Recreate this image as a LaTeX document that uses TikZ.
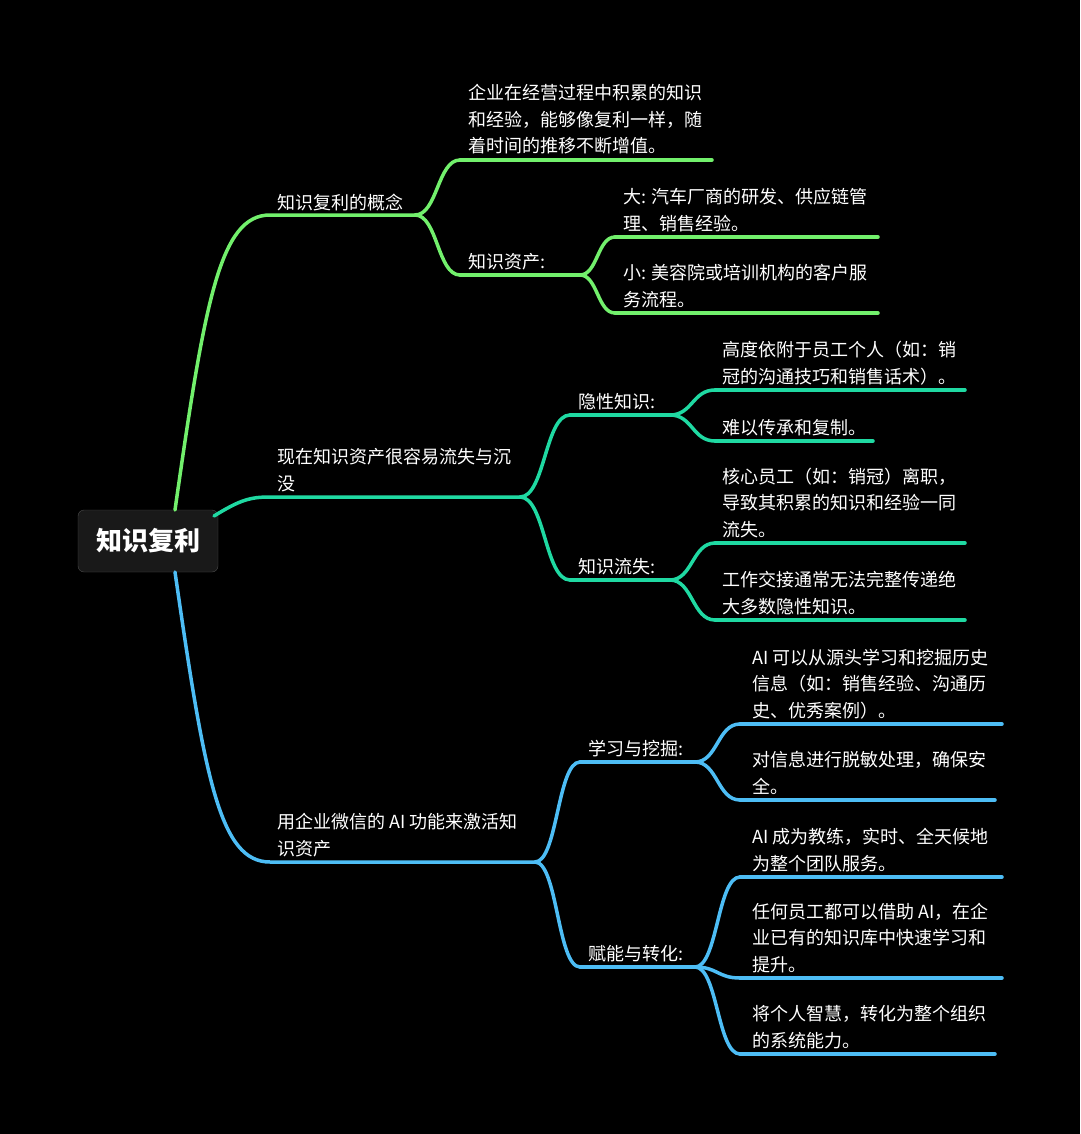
\documentclass[tikz,border=0pt]{standalone}
\usepackage{fontspec}
\setmainfont{Noto Sans CJK SC}
\usetikzlibrary{calc}
\definecolor{cgreen}{HTML}{72F06C}
\definecolor{cteal}{HTML}{1FD9A2}
\definecolor{cblue}{HTML}{4DBDF5}
\tikzset{
  txt/.style={anchor=base west, inner sep=0pt, text=white, font=\fontsize{18}{26.5}\selectfont, align=left},
  branch/.style={line width=3.5pt, line cap=round},
}
\newcommand{\scurve}[3]{\coordinate (mid) at ($(#2)!0.5!(#3)$);
  \draw[branch,#1] (#2) .. controls (mid |- #2) and (mid |- #3) .. (#3);}
\begin{document}
\begin{tikzpicture}[x=1pt,y=-1pt]
\fill[black] (0,0) rectangle (1080,1134);
\useasboundingbox (0,0) rectangle (1080,1134);

% Root
\node[draw=black!70!white, fill=black!90!white, rounded corners=6pt, minimum width=140pt, minimum height=62pt,
  text=white, font=\fontsize{26}{30}\selectfont\bfseries] (root) at (148,541) {知识复利};

% Green branch
\coordinate (g0) at (270,215); \coordinate (g1) at (415,215);
\coordinate (ga0) at (460,160); \coordinate (ga1) at (712,160);
\coordinate (gb0) at (460,275); \coordinate (gb1) at (580,275);
\coordinate (gc0) at (615,237); \coordinate (gc1) at (878,237);
\coordinate (gd0) at (615,313); \coordinate (gd1) at (878,313);
\draw[branch,cgreen] (175,510) .. controls (205,300) and (220,215) .. (g0) -- (g1);
\scurve{cgreen}{g1}{ga0} \draw[branch,cgreen] (ga0) -- (ga1);
\scurve{cgreen}{g1}{gb0} \draw[branch,cgreen] (gb0) -- (gb1);
\scurve{cgreen}{gb1}{gc0} \draw[branch,cgreen] (gc0) -- (gc1);
\scurve{cgreen}{gb1}{gd0} \draw[branch,cgreen] (gd0) -- (gd1);
\node[txt] (gt) at (277,209) {知识复利的概念};
\node[txt] (gat) at (468,153) {企业在经营过程中积累的知识\\和经验，能够像复利一样，随\\着时间的推移不断增值。};
\node[txt] (gbt) at (468,268) {知识资产:};
\node[txt] (gct) at (623,230) {大: 汽车厂商的研发、供应链管\\理、销售经验。};
\node[txt] (gdt) at (623,306) {小: 美容院或培训机构的客户服\\务流程。};

% Teal branch
\coordinate (t0) at (270,497); \coordinate (t1) at (520,497);
\coordinate (ta0) at (570,415); \coordinate (ta1) at (670,415);
\coordinate (tb0) at (570,580); \coordinate (tb1) at (670,580);
\coordinate (tc0) at (715,390); \coordinate (tc1) at (965,390);
\coordinate (td0) at (715,441); \coordinate (td1) at (873,441);
\coordinate (te0) at (715,543); \coordinate (te1) at (965,543);
\coordinate (tf0) at (715,620); \coordinate (tf1) at (965,620);
\draw[branch,cteal] (214,516) .. controls (240,500) and (250,497) .. (t0) -- (t1);
\scurve{cteal}{t1}{ta0} \draw[branch,cteal] (ta0) -- (ta1);
\scurve{cteal}{t1}{tb0} \draw[branch,cteal] (tb0) -- (tb1);
\scurve{cteal}{ta1}{tc0} \draw[branch,cteal] (tc0) -- (tc1);
\scurve{cteal}{ta1}{td0} \draw[branch,cteal] (td0) -- (td1);
\scurve{cteal}{tb1}{te0} \draw[branch,cteal] (te0) -- (te1);
\scurve{cteal}{tb1}{tf0} \draw[branch,cteal] (tf0) -- (tf1);
\node[txt] (tt) at (277,490) {现在知识资产很容易流失与沉\\没};
\node[txt] (tat) at (578,408) {隐性知识:};
\node[txt] (tbt) at (578,573) {知识流失:};
\node[txt] (tct) at (722,383) {高度依附于员工个人（如：销\\冠的沟通技巧和销售话术）。};
\node[txt] (tdt) at (722,434) {难以传承和复制。};
\node[txt] (tet) at (722,536) {核心员工（如：销冠）离职，\\导致其积累的知识和经验一同\\流失。};
\node[txt] (tft) at (722,613) {工作交接通常无法完整传递绝\\大多数隐性知识。};

% Blue branch
\coordinate (b0) at (270,862); \coordinate (b1) at (535,862);
\coordinate (ba0) at (580,762); \coordinate (ba1) at (695,762);
\coordinate (bb0) at (580,967); \coordinate (bb1) at (695,967);
\coordinate (bc0) at (740,724); \coordinate (bc1) at (1002,724);
\coordinate (bd0) at (740,800); \coordinate (bd1) at (995,800);
\coordinate (be0) at (740,877); \coordinate (be1) at (1002,877);
\coordinate (bf0) at (740,978); \coordinate (bf1) at (1002,978);
\coordinate (bg0) at (740,1054); \coordinate (bg1) at (995,1054);
\draw[branch,cblue] (175,572) .. controls (205,780) and (220,862) .. (b0) -- (b1);
\scurve{cblue}{b1}{ba0} \draw[branch,cblue] (ba0) -- (ba1);
\scurve{cblue}{b1}{bb0} \draw[branch,cblue] (bb0) -- (bb1);
\scurve{cblue}{ba1}{bc0} \draw[branch,cblue] (bc0) -- (bc1);
\scurve{cblue}{ba1}{bd0} \draw[branch,cblue] (bd0) -- (bd1);
\scurve{cblue}{bb1}{be0} \draw[branch,cblue] (be0) -- (be1);
\scurve{cblue}{bb1}{bf0} \draw[branch,cblue] (bf0) -- (bf1);
\scurve{cblue}{bb1}{bg0} \draw[branch,cblue] (bg0) -- (bg1);
\node[txt] (bt) at (277,855) {用企业微信的 AI 功能来激活知\\识资产};
\node[txt] (bat) at (588,755) {学习与挖掘:};
\node[txt] (bbt) at (588,960) {赋能与转化:};
\node[txt] (bct) at (752,717) {AI 可以从源头学习和挖掘历史\\信息（如：销售经验、沟通历\\史、优秀案例）。};
\node[txt] (bdt) at (752,793) {对信息进行脱敏处理，确保安\\全。};
\node[txt] (bet) at (752,870) {AI 成为教练，实时、全天候地\\为整个团队服务。};
\node[txt] (bft) at (752,971) {任何员工都可以借助 AI，在企\\业已有的知识库中快速学习和\\提升。};
\node[txt] (bgt) at (752,1047) {将个人智慧，转化为整个组织\\的系统能力。};
\end{tikzpicture}
\end{document}
